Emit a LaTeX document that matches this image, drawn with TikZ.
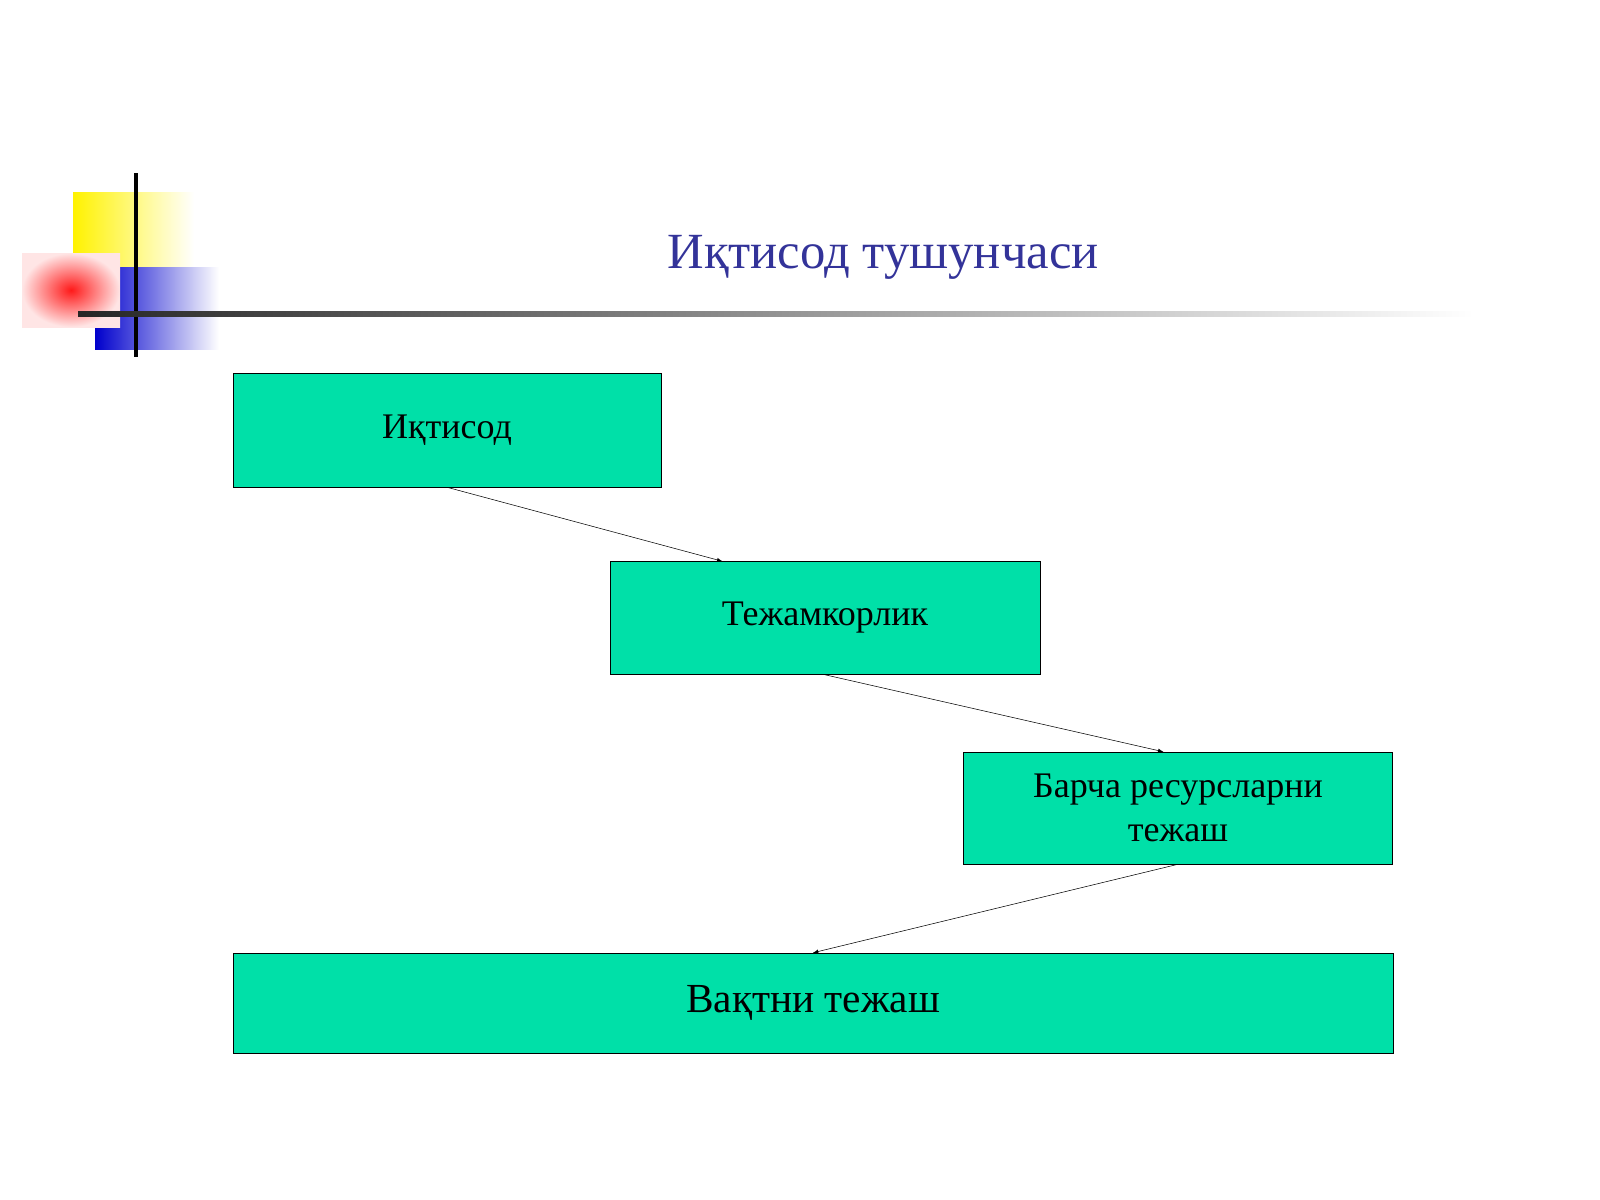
\documentclass[tikz,border=0pt]{standalone}
\usepackage{fontspec}
\setmainfont{Liberation Serif}
\usetikzlibrary{calc}
\definecolor{boxgreen}{HTML}{00E0A8}
\definecolor{titleblue}{HTML}{333399}

\begin{document}
\begin{tikzpicture}[x=0.75pt, y=-0.75pt,
      concept/.style ={rectangle, draw, fill=boxgreen, inner sep = 0pt, align=center, font=\fontsize{27}{33}\selectfont},
      link/.style ={-latex, thin}]
   \useasboundingbox (0,0) rectangle (1600,1200);

   % corner decoration
   \shade[left color=yellow!90!orange, right color=white] (73,192) rectangle (194,267);
   \shade[left color=blue!80!black, right color=white] (95,267) rectangle (219,349);
   \shade[inner color=red!90!white, outer color=red!10!white] (22,253) rectangle (120,327);
   \draw[line width=3pt] (136,173) to (136,357);
   \shade[left color=black!85, right color=white] (78,311.5) rectangle (1474,316.5);

   \node[text=titleblue, font=\fontsize{38}{44}\selectfont] (title) at (883,257) {Иқтисод тушунчаси};

   \node[concept, minimum width=321pt, minimum height=85.5pt] (A)  at (447,430)  {Иқтисод};
   \node[concept, minimum width=322.5pt, minimum height=84.75pt] (B)  at (825,618)  {Тежамкорлик};
   \node[concept, minimum width=322pt, minimum height=84pt] (C)  at (1178,808)  {Барча ресурсларни\\тежаш};
   \node[concept, minimum width=870pt, minimum height=75pt, font=\fontsize{31}{36}\selectfont] (D)  at (813,1003)  {Вақтни тежаш};

   \draw[link] (A.south) to ($(B.north)+(-77pt,0)$);
   \draw[link] (B.south) to ($(C.north)+(-11pt,0)$);
   \draw[link] (C.south) to (D.north);
 \end{tikzpicture}
\end{document}
